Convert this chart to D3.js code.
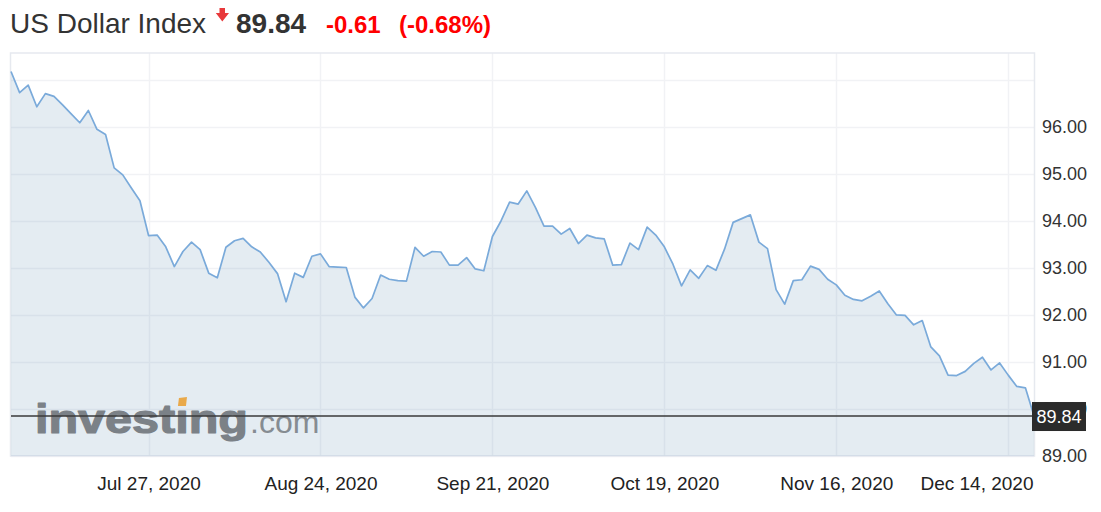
<!DOCTYPE html>
<html>
<head>
<meta charset="utf-8">
<script src="https://cdn.jsdelivr.net/npm/d3@7"></script>
<style>
  html, body { margin: 0; padding: 0; background: #fff; }
  svg { display: block; font-family: Arial, "Liberation Sans", sans-serif; }
</style>
</head>
<body>
<svg id="chart" width="1101" height="512"></svg>
<script>
// ---- data ----
const titleText = "US Dollar Index";
const lastValue = 89.84;
const changeText = "-0.61";
const changePctText = "(-0.68%)";

const values = [
  97.17, 96.72, 96.88, 96.42, 96.70, 96.64, 96.46, 96.27, 96.08, 96.34,
  95.94, 95.83, 95.12, 94.97, 94.69, 94.42, 93.68, 93.69, 93.44, 93.02,
  93.34, 93.54, 93.38, 92.88, 92.78, 93.43, 93.57, 93.62, 93.44, 93.33,
  93.11, 92.87, 92.27, 92.88, 92.79, 93.24, 93.29, 93.02, 93.01, 93.00,
  92.37, 92.14, 92.34, 92.84, 92.75, 92.72, 92.71, 93.43, 93.24, 93.34,
  93.33, 93.05, 93.05, 93.21, 92.97, 92.93, 93.66, 93.99, 94.39, 94.35,
  94.63, 94.28, 93.88, 93.88, 93.71, 93.83, 93.51, 93.69, 93.63, 93.61,
  93.05, 93.06, 93.52, 93.38, 93.86, 93.69, 93.44, 93.07, 92.61, 92.95,
  92.77, 93.04, 92.94, 93.39, 93.96, 94.04, 94.12, 93.54, 93.40, 92.53,
  92.22, 92.72, 92.74, 93.03, 92.96, 92.75, 92.63, 92.41, 92.32, 92.29,
  92.39, 92.50, 92.23, 91.99, 91.98, 91.78, 91.87, 91.31, 91.12, 90.71,
  90.70, 90.79, 90.96, 91.09, 90.82, 90.97, 90.71, 90.47, 90.44, 89.84
];
const xTickIndex = [16, 36, 56, 76, 96, 116];
const xTickLabels = ["Jul 27, 2020", "Aug 24, 2020", "Sep 21, 2020", "Oct 19, 2020", "Nov 16, 2020", "Dec 14, 2020"];
const yTickValues = [89, 90, 91, 92, 93, 94, 95, 96];
const yGridValues = [89, 90, 91, 92, 93, 94, 95, 96, 97];

// ---- layout ----
const plot = { left: 11, right: 1034, top: 53, bottom: 456 };
const svg = d3.select("#chart");

const x = d3.scaleLinear().domain([0, values.length - 1]).range([plot.left, plot.right]);
const y = d3.scaleLinear().domain([89, 97]).range([455.5, 79.5]);

// title
const title = svg.append("g");
title.append("text").attr("x", 10).attr("y", 33)
  .attr("font-size", 28).attr("fill", "#333").text(titleText);
// red down arrow
title.append("path")
  .attr("d", "M219.5,8 L225,8 L225,13 L229,13 L222.3,21.5 L215.8,13 L219.5,13 Z")
  .attr("fill", "#e8393b");
title.append("text").attr("x", 236).attr("y", 33)
  .attr("font-size", 28).attr("font-weight", "bold").attr("fill", "#333")
  .text(lastValue.toFixed(2));
title.append("text").attr("x", 326).attr("y", 33)
  .attr("font-size", 24).attr("font-weight", "bold").attr("fill", "#f00")
  .text(changeText);
title.append("text").attr("x", 399).attr("y", 33)
  .attr("font-size", 24).attr("font-weight", "bold").attr("fill", "#f00")
  .text(changePctText);

// grid
const grid = svg.append("g");
grid.selectAll("line.h").data(yGridValues).join("line")
  .attr("x1", plot.left).attr("x2", plot.right)
  .attr("y1", d => Math.round(y(d)) + 0.5).attr("y2", d => Math.round(y(d)) + 0.5)
  .attr("stroke", "#f1f2f5").attr("stroke-width", 1.5);
grid.selectAll("line.v").data(xTickIndex).join("line")
  .attr("x1", d => Math.round(x(d)) + 0.5).attr("x2", d => Math.round(x(d)) + 0.5)
  .attr("y1", plot.top).attr("y2", plot.bottom)
  .attr("stroke", "#f1f2f5").attr("stroke-width", 1.5);

// border
svg.append("rect")
  .attr("x", plot.left - 0.5).attr("y", plot.top)
  .attr("width", plot.right - plot.left + 1).attr("height", plot.bottom - plot.top)
  .attr("fill", "none").attr("stroke", "#e6e9ef").attr("stroke-width", 1.5);

// area + line
const area = d3.area().x((d, i) => x(i)).y0(plot.bottom).y1(d => y(d));
const line = d3.line().x((d, i) => x(i)).y(d => y(d));
svg.append("path").datum(values).attr("d", area)
  .attr("fill", "rgb(120,160,190)").attr("fill-opacity", 0.2);

// watermark
const wm = svg.append("g");
const wmText = wm.append("text").attr("x", 35).attr("y", 433)
  .attr("font-size", 41).attr("font-weight", "bold").attr("fill", "#7b8187")
  .attr("stroke", "#7b8187").attr("stroke-width", 1.2).attr("stroke-linejoin", "round")
  .attr("textLength", 213).attr("lengthAdjust", "spacingAndGlyphs")
  .text("investıng");
let dotX = 177;
try {
  const ext = wmText.node().getExtentOfChar(6);
  dotX = ext.x + ext.width / 2 - 4;
} catch (e) {}
wm.append("path")
  .attr("d", `M${dotX + 1},398 L${dotX + 9},397 L${dotX + 8},406 L${dotX},406 Z`)
  .attr("fill", "#e9a94a");
wm.append("text").attr("x", 250).attr("y", 433)
  .attr("font-size", 32).attr("fill", "#868c92")
  .text(".com");

svg.append("path").datum(values).attr("d", line)
  .attr("fill", "none").attr("stroke", "#7aaada").attr("stroke-width", 1.7)
  .attr("stroke-linejoin", "round");

// last value line
const lastY = y(values[values.length - 1]);
svg.append("line").attr("x1", plot.left).attr("x2", plot.right)
  .attr("y1", lastY).attr("y2", lastY)
  .attr("stroke", "#3a3a3a").attr("stroke-width", 1.5);

// y axis
const yAxis = svg.append("g").attr("transform", `translate(${plot.right},0)`)
  .call(d3.axisRight(y).tickValues(yTickValues).tickFormat(d3.format(".2f")).tickSize(0));
yAxis.select(".domain").remove();
yAxis.selectAll("text").attr("x", 8).attr("dy", "0.36em")
  .attr("font-size", 18).attr("font-family", "Arial, 'Liberation Sans', sans-serif").attr("fill", "#333");

// x axis
const xAxis = svg.append("g").attr("transform", `translate(0,470)`)
  .call(d3.axisBottom(x).tickValues(xTickIndex).tickFormat((d, i) => xTickLabels[i]).tickSize(0));
xAxis.select(".domain").remove();
xAxis.selectAll("text").attr("y", 0).attr("dy", "1.05em")
  .attr("font-size", 19).attr("font-family", "Arial, 'Liberation Sans', sans-serif").attr("fill", "#222");
// keep the last label inside the plot
xAxis.selectAll(".tick").filter((d, i) => i === xTickIndex.length - 1).select("text")
  .attr("text-anchor", "end").attr("x", plot.right - 1 - x(xTickIndex[xTickIndex.length - 1]));

// last value badge
const badge = svg.append("g").attr("transform", `translate(1032,${lastY})`);
badge.append("rect").attr("x", 0).attr("y", -14).attr("width", 54).attr("height", 29)
  .attr("fill", "#2b2b2b");
badge.append("text").attr("x", 27).attr("y", 0).attr("dy", "0.36em")
  .attr("text-anchor", "middle").attr("font-size", 18).attr("fill", "#fff")
  .text(values[values.length - 1].toFixed(2));
</script>
</body>
</html>
